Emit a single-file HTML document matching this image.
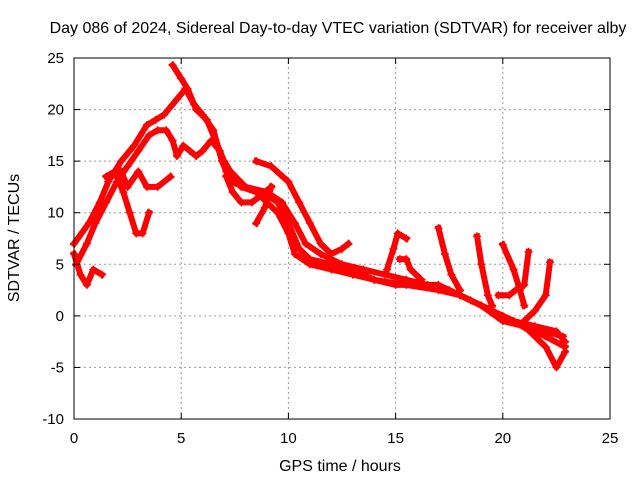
<!DOCTYPE html>
<html><head><meta charset="utf-8">
<style>
html,body{margin:0;padding:0;background:#fff;}
svg{display:block;font-family:"Liberation Sans",sans-serif;}
</style></head>
<body>
<svg id="chart" width="640" height="480">
  <rect x="0" y="0" width="640" height="480" fill="#fff"/>
  <g id="grid"></g>
  <g id="series"></g>
  <rect x="74" y="58" width="536" height="361" fill="none" stroke="#000" stroke-width="1"/>
  <g id="ticks"></g>
  <text x="338" y="33" font-size="16" text-anchor="middle">Day 086 of 2024, Sidereal Day-to-day VTEC variation (SDTVAR) for receiver alby</text>
  <text x="340" y="471" font-size="16" text-anchor="middle">GPS time / hours</text>
  <text transform="translate(19,238) rotate(-90)" font-size="16" text-anchor="middle">SDTVAR / TECUs</text>
</svg>
<script>
const xTicks = [0,5,10,15,20,25];
const yTicks = [-10,-5,0,5,10,15,20,25];
const track1 = [[0,7],[0.7,9],[1.2,11],[1.6,13],[2.2,15],[2.8,16.5],[3.4,18.5],[3.8,19],[4.2,19.5],[4.8,21],[5.2,22],[5.6,20.5],[6,19.5],[6.5,18],[6.9,15],[7.3,13],[8,12.5],[9,12],[9.7,11],[10.3,9],[10.8,7],[11.5,6],[12.5,5],[13.5,4.5],[14.5,4],[15.5,3.5],[16.5,3],[17.5,2.5],[18.5,1.5],[19.5,0.5],[20.5,-0.5],[21.5,-1],[22.5,-1.5],[22.9,-2.5]];
const track2 = [[4.6,24.3],[5,23],[5.3,22],[5.7,20],[6.2,19],[6.6,17],[7,15],[7.3,14],[8,12.5],[8.8,12],[9.5,11],[10,9],[10.5,6.5],[11,5.5],[12,5],[13,4.5],[14,3.5],[15.5,3],[17,2.5],[18,2],[19,1],[20,-0.5],[21,-1],[22,-3],[22.5,-5],[22.9,-3.5]];
const track3 = [[0.1,5],[0.6,7],[1,9],[1.5,11],[2,13],[2.5,14.5],[3,16],[3.5,17.5],[3.9,18],[4.3,18],[4.6,17],[4.8,15.5],[5.1,16.5],[5.4,16],[5.7,15.5],[6,16],[6.4,17],[6.8,16],[7.1,14],[7.8,12.5],[8.5,12],[9.5,10],[10,8],[10.3,6],[11,5],[12,4.5],[13,4],[14,3.5],[15,3],[16,3],[17,3],[18,2],[19,1],[20,0],[21,-1],[22,-2],[22.9,-3]];
const track4 = [[1.5,13.5],[1.9,14],[2.3,12],[2.6,10],[2.9,8],[3.2,8],[3.5,10]];
const track5 = [[2.2,14],[2.5,12.5],[3,14],[3.4,12.5],[3.9,12.5],[4.5,13.5]];
const track6 = [[0,6],[0.3,4],[0.6,3],[0.9,4.5],[1.3,4]];
const track7 = [[7.1,13.5],[7.4,12],[7.8,11],[8.3,11],[8.6,11.5],[9.2,12.5]];
const track8 = [[8.5,9],[8.9,10.5],[9.2,12.5]];
const track9 = [[8.5,15],[9.2,14.5],[10,13],[10.5,11],[11,9],[11.5,7],[12,6],[12.5,6.5],[12.8,7]];
const track10 = [[14.6,4.5],[14.9,6.5],[15.1,8],[15.5,7.5]];
const track11 = [[15.2,5.5],[15.5,5.5],[15.7,4.5],[16.2,3.5]];
const track12 = [[17,8.5],[17.3,6],[17.6,4],[18,2.5]];
const track13 = [[18.8,7.7],[19,5],[19.3,2],[19.5,1]];
const track14 = [[20,6.9],[20.5,4.5],[20.8,2.5],[21,1]];
const track15 = [[21.2,6.2],[21,3],[20.6,2.5],[20.3,2],[19.8,2]];
const track16 = [[22.2,5.2],[22,2],[21.5,0.5],[21,-0.5]];
const track17 = [[20.5,-0.5],[21.3,-1.5],[22,-1.5],[22.8,-2]];
const tracks = [track1,track2,track3,track4,track5,track6,track7,track8,track9,track10,track11,track12,track13,track14,track15,track16,track17];

const X0=74,X1=610,Y0=419,Y1=58, XMIN=0,XMAX=25,YMIN=-10,YMAX=25;
function xs(v){return X0+(v-XMIN)/(XMAX-XMIN)*(X1-X0);}
function ys(v){return Y0-(v-YMIN)/(YMAX-YMIN)*(Y0-Y1);}
const NS="http://www.w3.org/2000/svg";
function mk(tag,attrs,parent){const e=document.createElementNS(NS,tag);for(const k in attrs)e.setAttribute(k,attrs[k]);parent.appendChild(e);return e;}
const grid=document.getElementById('grid'),ticks=document.getElementById('ticks'),series=document.getElementById('series');
xTicks.forEach(t=>{
  const x=xs(t);
  if(t>XMIN&&t<XMAX){const g=mk('line',{x1:x,y1:Y0,x2:x,y2:Y1,stroke:'#999','stroke-dasharray':'2,3'},grid);
  
  }
  mk('line',{x1:x,y1:Y0,x2:x,y2:Y0-6,stroke:'#000'},ticks);
  mk('line',{x1:x,y1:Y1,x2:x,y2:Y1+6,stroke:'#000'},ticks);
  const l=mk('text',{x:x,y:443,'font-size':15,'text-anchor':'middle'},ticks);
  l.textContent=t;
  
  
});
yTicks.forEach(t=>{
  const y=ys(t);
  if(t>YMIN&&t<YMAX){const g=mk('line',{x1:X0,y1:y,x2:X1,y2:y,stroke:'#999','stroke-dasharray':'2,3'},grid);
  
  }
  mk('line',{x1:X0,y1:y,x2:X0+6,y2:y,stroke:'#000'},ticks);
  mk('line',{x1:X1,y1:y,x2:X1-6,y2:y,stroke:'#000'},ticks);
  const l=mk('text',{x:64,y:y+5,'font-size':15,'text-anchor':'end'},ticks);
  l.textContent=t;
  
  
});
tracks.forEach((tr,i)=>{
  const pts=tr.map(p=>xs(p[0])+','+ys(p[1])).join(' ');
  const pl=mk('polyline',{points:pts,fill:'none',stroke:'#f00','stroke-width':6,'stroke-linejoin':'round','stroke-linecap':'square'},series);
  
  
  tr.forEach(p=>{
    const x=xs(p[0]),y=ys(p[1]);
    const m=mk('path',{d:`M${x-4},${y}H${x+4}M${x},${y-4}V${y+4}`,stroke:'#f00','stroke-width':1.5},series);
    
    
  });
});
</script>
</body></html>
